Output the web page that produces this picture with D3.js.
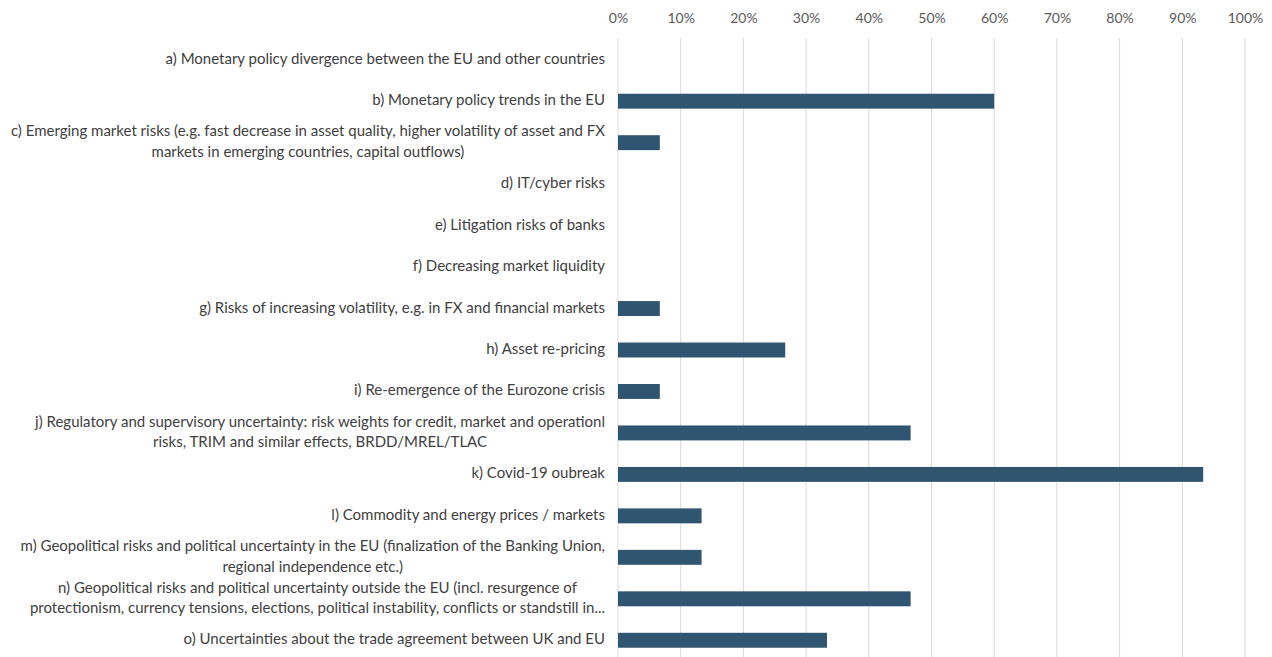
<!DOCTYPE html>
<html><head><meta charset="utf-8">
<script src="https://cdn.jsdelivr.net/npm/d3@7"></script>
<style>
body{margin:0;background:#fff;}
svg{display:block;}
text{font-family:Lato,"Open Sans",sans-serif;}
</style></head>
<body>
<svg id="chart" width="1272" height="657"></svg>
<script>
const categories = [
  ["a) Monetary policy divergence between the EU and other countries"],
  ["b) Monetary policy trends in the EU"],
  ["c) Emerging market risks (e.g. fast decrease in asset quality, higher volatility of asset and FX", "markets in emerging countries, capital outflows)"],
  ["d) IT/cyber risks"],
  ["e) Litigation risks of banks"],
  ["f) Decreasing market liquidity"],
  ["g) Risks of increasing volatility, e.g. in FX and financial markets"],
  ["h) Asset re-pricing"],
  ["i) Re-emergence of the Eurozone crisis"],
  ["j) Regulatory and supervisory uncertainty: risk weights for credit, market and operationl", "risks, TRIM and similar effects, BRDD/MREL/TLAC"],
  ["k) Covid-19 oubreak"],
  ["l) Commodity and energy prices / markets"],
  ["m) Geopolitical risks and political uncertainty  in the EU (finalization of the Banking Union,", "regional independence etc.)"],
  ["n) Geopolitical risks and political uncertainty outside the EU (incl. resurgence of", "protectionism, currency tensions, elections, political instability, conflicts or standstill in..."],
  ["o) Uncertainties about the trade agreement between UK and EU"]
];
const values = [0, 0.6, 0.0667, 0, 0, 0, 0.0667, 0.2667, 0.0667, 0.4667, 0.9333, 0.1333, 0.1333, 0.4667, 0.3333];
const tickValues = [0, 0.1, 0.2, 0.3, 0.4, 0.5, 0.6, 0.7, 0.8, 0.9, 1.0];

const svg = d3.select("#chart");
const x = d3.scaleLinear().domain([0, 1]).range([618, 1245]);
const y = d3.scaleBand().domain(d3.range(categories.length)).range([39, 661]).paddingInner(0.64).paddingOuter(0.32);

// gridlines
svg.append("g").selectAll("line").data(tickValues).join("line")
  .attr("x1", d => x(d)).attr("x2", d => x(d))
  .attr("y1", 38).attr("y2", 657)
  .attr("stroke", "#d9d9d9").attr("stroke-width", 1);

// top axis
const axis = svg.append("g").attr("transform", "translate(0,23)")
  .call(d3.axisTop(x).tickValues(tickValues).tickFormat(d3.format(".0%")).tickSize(0).tickPadding(0));
axis.select(".domain").remove();
axis.selectAll("text").attr("fill", "#595959").style("font-size", "14px").style("font-family", "Lato, sans-serif");

// bars
svg.append("g").selectAll("rect").data(values).join("rect")
  .attr("x", x(0)).attr("y", (d, i) => y(i))
  .attr("width", d => x(d) - x(0)).attr("height", y.bandwidth())
  .attr("fill", "#2f5571");

// labels
const fs = 15, lh = 20.5, rightX = 605;
const lg = svg.append("g");
categories.forEach((lines, i) => {
  const cy = y(i) + y.bandwidth() / 2 - 2;
  const g = lg.append("g");
  const texts = lines.map((ln, j) => g.append("text")
    .attr("fill", "#404040").style("font-size", fs + "px")
    .attr("dominant-baseline", "central")
    .attr("y", cy + (j - (lines.length - 1) / 2) * lh)
    .text(ln));
  const widths = texts.map(t => t.node().getComputedTextLength());
  const maxW = Math.max(...widths);
  texts.forEach(t => t.attr("text-anchor", "middle").attr("x", rightX - maxW / 2));
});
</script>
</body></html>
